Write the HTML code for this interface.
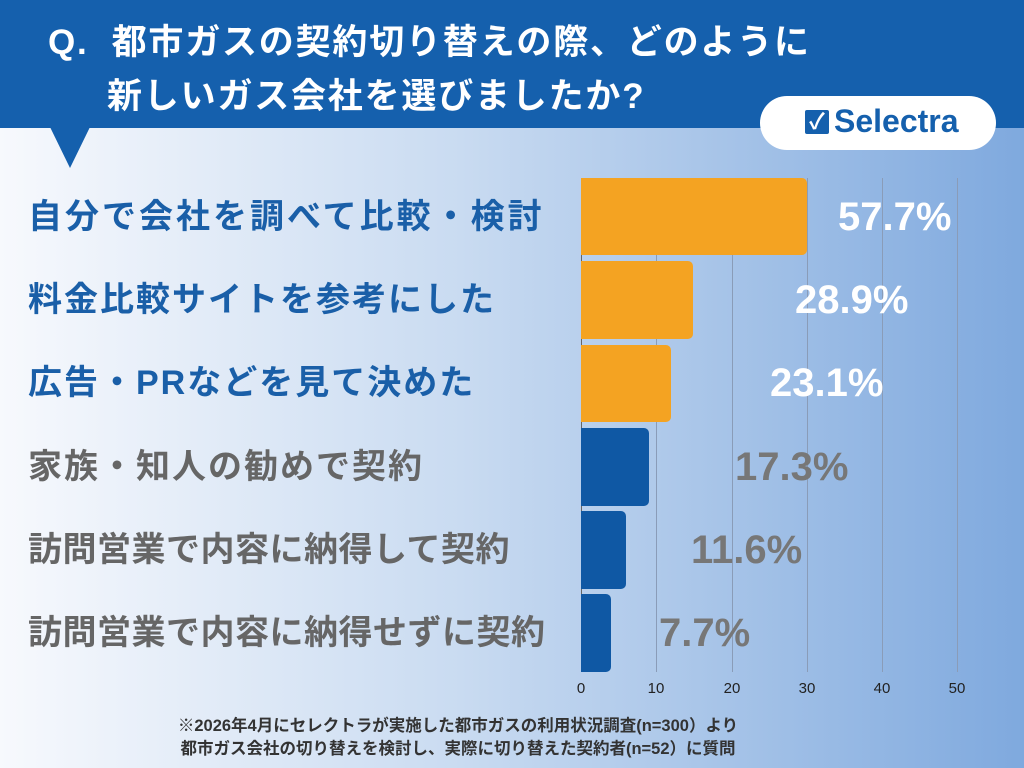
<!DOCTYPE html>
<html><head><meta charset="utf-8"><style>
*{margin:0;padding:0;box-sizing:border-box}
body{width:1024px;height:768px;overflow:hidden;position:relative;font-family:"Liberation Sans","Noto Sans CJK JP",sans-serif;font-weight:bold;background:linear-gradient(90deg,#f7f9fd 0%,#c9dbf1 45%,#7fa9de 100%)}
.hdr{position:absolute;left:0;top:0;width:1024px;height:128px;background:#1560ad}
.tri{position:absolute;left:50px;top:127px;width:0;height:0;border-left:20px solid transparent;border-right:20px solid transparent;border-top:41px solid #1560ad}
.t{position:absolute;color:#fff;font-size:35px;white-space:nowrap;line-height:44px;letter-spacing:1.8px}
.badge{position:absolute;left:760px;top:96px;width:236px;height:54px;background:#fff;border-radius:27px}
.grid{position:absolute;top:178px;width:1px;height:494px;background:#8a9cb8}
.bar{position:absolute;left:581px;border-radius:0 5px 5px 0}
.lab{position:absolute;left:28px;font-size:34px;white-space:nowrap;line-height:40px}
.val{position:absolute;font-size:40px;line-height:40px;font-family:"Liberation Sans",sans-serif}
.tick{position:absolute;top:680px;font-size:15px;font-weight:normal;color:#222;width:30px;text-align:center;margin-left:-15px}
.foot{position:absolute;left:0;width:916px;text-align:center;font-size:16.5px;color:#333}
</style></head><body>
<div class="hdr"></div><div class="tri"></div>
<div class="t" style="left:48px;top:21px">Q.&nbsp; 都市ガスの契約切り替えの際、どのように</div>
<div class="t" style="left:107px;top:75px">新しいガス会社を選びましたか?</div>
<div class="badge"></div>
<div style="position:absolute;left:805px;top:110px;width:24px;height:24px;background:#1560ad;border-radius:2px;color:#fff;font-size:22px;line-height:24px;text-align:center">✓</div>
<div style="position:absolute;left:834px;top:103px;font-size:32px;color:#1560ad;font-family:'Liberation Sans',sans-serif">Selectra</div>
<div class="grid" style="left:581px;background:#666"></div>
<div class="grid" style="left:656px"></div><div class="grid" style="left:732px"></div><div class="grid" style="left:807px"></div><div class="grid" style="left:882px"></div><div class="grid" style="left:957px"></div>
<div class="bar" style="top:178px;height:77px;width:226px;background:#f4a322"></div>
<div class="bar" style="top:261px;height:78px;width:112px;background:#f4a322"></div>
<div class="bar" style="top:345px;height:77px;width:90px;background:#f4a322"></div>
<div class="bar" style="top:428px;height:78px;width:68px;background:#0f58a4"></div>
<div class="bar" style="top:511px;height:78px;width:45px;background:#0f58a4"></div>
<div class="bar" style="top:594px;height:78px;width:30px;background:#0f58a4"></div>
<div class="lab" style="top:197px;color:#1a5fa8;letter-spacing:3px">自分で会社を調べて比較・検討</div>
<div class="lab" style="top:280px;color:#1a5fa8;letter-spacing:2px">料金比較サイトを参考にした</div>
<div class="lab" style="top:363px;color:#1a5fa8;letter-spacing:2px">広告・PRなどを見て決めた</div>
<div class="lab" style="top:447px;color:#666;letter-spacing:2px">家族・知人の勧めで契約</div>
<div class="lab" style="top:530px;color:#666;letter-spacing:0.5px">訪問営業で内容に納得して契約</div>
<div class="lab" style="top:613px;color:#666;letter-spacing:0.5px">訪問営業で内容に納得せずに契約</div>
<div class="val" style="left:838px;top:197px;color:#fff">57.7%</div>
<div class="val" style="left:795px;top:280px;color:#fff">28.9%</div>
<div class="val" style="left:770px;top:363px;color:#fff">23.1%</div>
<div class="val" style="left:735px;top:447px;color:#777">17.3%</div>
<div class="val" style="left:691px;top:530px;color:#777">11.6%</div>
<div class="val" style="left:659px;top:613px;color:#777">7.7%</div>
<div class="tick" style="left:581px">0</div><div class="tick" style="left:656px">10</div><div class="tick" style="left:732px">20</div><div class="tick" style="left:807px">30</div><div class="tick" style="left:882px">40</div><div class="tick" style="left:957px">50</div>
<div class="foot" style="top:712px">※2026年4月にセレクトラが実施した都市ガスの利用状況調査(n=300）より</div>
<div class="foot" style="top:735px">都市ガス会社の切り替えを検討し、実際に切り替えた契約者(n=52）に質問</div>
</body></html>
